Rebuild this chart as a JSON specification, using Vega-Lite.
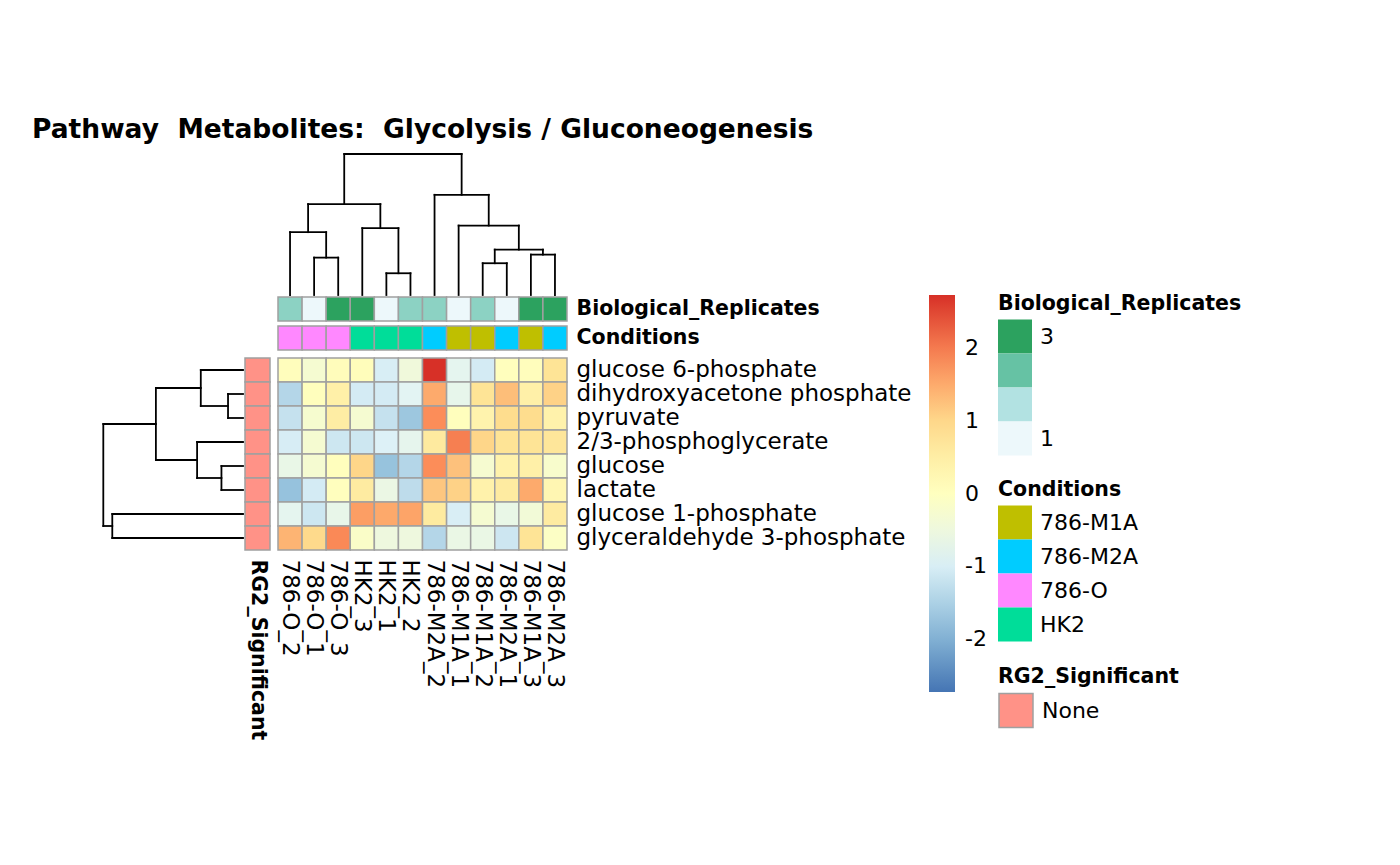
{
  "$schema": "https://vega.github.io/schema/vega-lite/v6.json",
  "width": 289,
  "height": 192,
  "autosize": {"type": "none"},
  "padding": {"left": 278, "top": 358, "right": 833, "bottom": 315},
  "background": "white",
  "title": {
    "text": "Pathway\u00a0 Metabolites:\u00a0 Glycolysis / Gluconeogenesis",
    "anchor": "start",
    "frame": "group",
    "font": "DejaVu Sans",
    "fontSize": 26.5,
    "fontWeight": "bold",
    "color": "black",
    "dx": -246,
    "offset": 9
  },
  "config": {
    "view": {"stroke": null},
    "font": "DejaVu Sans",
    "axis": {"labelFont": "DejaVu Sans", "labelColor": "black", "ticks": false, "domain": false, "grid": false, "title": null, "labelLimit": 500},
    "legend": {"labelFont": "DejaVu Sans", "titleFont": "DejaVu Sans", "labelColor": "black", "titleColor": "black", "padding": 0, "labelLimit": 300, "titleLimit": 400}
  },
  "datasets": {
    "heat": [
      {"sample": "786-O_2", "metabolite": "glucose 6-phosphate", "value": 0.05},
      {"sample": "786-O_1", "metabolite": "glucose 6-phosphate", "value": -0.29},
      {"sample": "786-O_3", "metabolite": "glucose 6-phosphate", "value": 0.08},
      {"sample": "HK2_3", "metabolite": "glucose 6-phosphate", "value": 0.07},
      {"sample": "HK2_1", "metabolite": "glucose 6-phosphate", "value": -1.0},
      {"sample": "HK2_2", "metabolite": "glucose 6-phosphate", "value": -0.44},
      {"sample": "786-M2A_2", "metabolite": "glucose 6-phosphate", "value": 2.72},
      {"sample": "786-M1A_1", "metabolite": "glucose 6-phosphate", "value": -0.76},
      {"sample": "786-M1A_2", "metabolite": "glucose 6-phosphate", "value": -1.04},
      {"sample": "786-M2A_1", "metabolite": "glucose 6-phosphate", "value": 0.03},
      {"sample": "786-M1A_3", "metabolite": "glucose 6-phosphate", "value": 0.05},
      {"sample": "786-M2A_3", "metabolite": "glucose 6-phosphate", "value": 0.79},

      {"sample": "786-O_2", "metabolite": "dihydroxyacetone phosphate", "value": -1.41},
      {"sample": "786-O_1", "metabolite": "dihydroxyacetone phosphate", "value": 0.03},
      {"sample": "786-O_3", "metabolite": "dihydroxyacetone phosphate", "value": 0.44},
      {"sample": "HK2_3", "metabolite": "dihydroxyacetone phosphate", "value": -1.04},
      {"sample": "HK2_1", "metabolite": "dihydroxyacetone phosphate", "value": -1.04},
      {"sample": "HK2_2", "metabolite": "dihydroxyacetone phosphate", "value": -0.82},
      {"sample": "786-M2A_2", "metabolite": "dihydroxyacetone phosphate", "value": 1.5},
      {"sample": "786-M1A_1", "metabolite": "dihydroxyacetone phosphate", "value": -0.7},
      {"sample": "786-M1A_2", "metabolite": "dihydroxyacetone phosphate", "value": 0.8},
      {"sample": "786-M2A_1", "metabolite": "dihydroxyacetone phosphate", "value": 1.28},
      {"sample": "786-M1A_3", "metabolite": "dihydroxyacetone phosphate", "value": 0.44},
      {"sample": "786-M2A_3", "metabolite": "dihydroxyacetone phosphate", "value": 1.06},

      {"sample": "786-O_2", "metabolite": "pyruvate", "value": -1.22},
      {"sample": "786-O_1", "metabolite": "pyruvate", "value": -0.25},
      {"sample": "786-O_3", "metabolite": "pyruvate", "value": 0.53},
      {"sample": "HK2_3", "metabolite": "pyruvate", "value": -0.29},
      {"sample": "HK2_1", "metabolite": "pyruvate", "value": -1.22},
      {"sample": "HK2_2", "metabolite": "pyruvate", "value": -1.68},
      {"sample": "786-M2A_2", "metabolite": "pyruvate", "value": 1.81},
      {"sample": "786-M1A_1", "metabolite": "pyruvate", "value": 0.03},
      {"sample": "786-M1A_2", "metabolite": "pyruvate", "value": 0.35},
      {"sample": "786-M2A_1", "metabolite": "pyruvate", "value": 0.94},
      {"sample": "786-M1A_3", "metabolite": "pyruvate", "value": 0.94},
      {"sample": "786-M2A_3", "metabolite": "pyruvate", "value": 0.38},

      {"sample": "786-O_2", "metabolite": "2/3-phosphoglycerate", "value": -1.01},
      {"sample": "786-O_1", "metabolite": "2/3-phosphoglycerate", "value": -0.29},
      {"sample": "786-O_3", "metabolite": "2/3-phosphoglycerate", "value": -1.12},
      {"sample": "HK2_3", "metabolite": "2/3-phosphoglycerate", "value": -1.12},
      {"sample": "HK2_1", "metabolite": "2/3-phosphoglycerate", "value": -0.94},
      {"sample": "HK2_2", "metabolite": "2/3-phosphoglycerate", "value": -0.73},
      {"sample": "786-M2A_2", "metabolite": "2/3-phosphoglycerate", "value": 0.61},
      {"sample": "786-M1A_1", "metabolite": "2/3-phosphoglycerate", "value": 1.95},
      {"sample": "786-M1A_2", "metabolite": "2/3-phosphoglycerate", "value": 1.02},
      {"sample": "786-M2A_1", "metabolite": "2/3-phosphoglycerate", "value": 0.8},
      {"sample": "786-M1A_3", "metabolite": "2/3-phosphoglycerate", "value": 0.8},
      {"sample": "786-M2A_3", "metabolite": "2/3-phosphoglycerate", "value": 0.72},

      {"sample": "786-O_2", "metabolite": "glucose", "value": -0.64},
      {"sample": "786-O_1", "metabolite": "glucose", "value": -0.29},
      {"sample": "786-O_3", "metabolite": "glucose", "value": 0.03},
      {"sample": "HK2_3", "metabolite": "glucose", "value": 1.02},
      {"sample": "HK2_1", "metabolite": "glucose", "value": -1.74},
      {"sample": "HK2_2", "metabolite": "glucose", "value": -1.41},
      {"sample": "786-M2A_2", "metabolite": "glucose", "value": 1.81},
      {"sample": "786-M1A_1", "metabolite": "glucose", "value": 1.24},
      {"sample": "786-M1A_2", "metabolite": "glucose", "value": -0.27},
      {"sample": "786-M2A_1", "metabolite": "glucose", "value": 0.38},
      {"sample": "786-M1A_3", "metabolite": "glucose", "value": 0.44},
      {"sample": "786-M2A_3", "metabolite": "glucose", "value": -0.2},

      {"sample": "786-O_2", "metabolite": "lactate", "value": -1.76},
      {"sample": "786-O_1", "metabolite": "lactate", "value": -1.04},
      {"sample": "786-O_3", "metabolite": "lactate", "value": 0.02},
      {"sample": "HK2_3", "metabolite": "lactate", "value": 0.58},
      {"sample": "HK2_1", "metabolite": "lactate", "value": -0.59},
      {"sample": "HK2_2", "metabolite": "lactate", "value": -1.3},
      {"sample": "786-M2A_2", "metabolite": "lactate", "value": 1.19},
      {"sample": "786-M1A_1", "metabolite": "lactate", "value": 1.06},
      {"sample": "786-M1A_2", "metabolite": "lactate", "value": 0.38},
      {"sample": "786-M2A_1", "metabolite": "lactate", "value": 0.58},
      {"sample": "786-M1A_3", "metabolite": "lactate", "value": 1.5},
      {"sample": "786-M2A_3", "metabolite": "lactate", "value": 0.26},

      {"sample": "786-O_2", "metabolite": "glucose 1-phosphate", "value": -0.76},
      {"sample": "786-O_1", "metabolite": "glucose 1-phosphate", "value": -1.12},
      {"sample": "786-O_3", "metabolite": "glucose 1-phosphate", "value": -0.67},
      {"sample": "HK2_3", "metabolite": "glucose 1-phosphate", "value": 1.63},
      {"sample": "HK2_1", "metabolite": "glucose 1-phosphate", "value": 1.51},
      {"sample": "HK2_2", "metabolite": "glucose 1-phosphate", "value": 1.56},
      {"sample": "786-M2A_2", "metabolite": "glucose 1-phosphate", "value": 0.59},
      {"sample": "786-M1A_1", "metabolite": "glucose 1-phosphate", "value": -0.99},
      {"sample": "786-M1A_2", "metabolite": "glucose 1-phosphate", "value": -0.29},
      {"sample": "786-M2A_1", "metabolite": "glucose 1-phosphate", "value": -0.64},
      {"sample": "786-M1A_3", "metabolite": "glucose 1-phosphate", "value": -0.38},
      {"sample": "786-M2A_3", "metabolite": "glucose 1-phosphate", "value": 0.58},

      {"sample": "786-O_2", "metabolite": "glyceraldehyde 3-phosphate", "value": 1.39},
      {"sample": "786-O_1", "metabolite": "glyceraldehyde 3-phosphate", "value": 0.97},
      {"sample": "786-O_3", "metabolite": "glyceraldehyde 3-phosphate", "value": 1.85},
      {"sample": "HK2_3", "metabolite": "glyceraldehyde 3-phosphate", "value": -0.15},
      {"sample": "HK2_1", "metabolite": "glyceraldehyde 3-phosphate", "value": -0.5},
      {"sample": "HK2_2", "metabolite": "glyceraldehyde 3-phosphate", "value": -0.5},
      {"sample": "786-M2A_2", "metabolite": "glyceraldehyde 3-phosphate", "value": -1.41},
      {"sample": "786-M1A_1", "metabolite": "glyceraldehyde 3-phosphate", "value": -0.6},
      {"sample": "786-M1A_2", "metabolite": "glyceraldehyde 3-phosphate", "value": -0.6},
      {"sample": "786-M2A_1", "metabolite": "glyceraldehyde 3-phosphate", "value": -1.13},
      {"sample": "786-M1A_3", "metabolite": "glyceraldehyde 3-phosphate", "value": 0.8},
      {"sample": "786-M2A_3", "metabolite": "glyceraldehyde 3-phosphate", "value": -0.09}
    ],
    "annot": [
      {"sample": "786-O_2", "replicate": 2, "condition": "786-O"},
      {"sample": "786-O_1", "replicate": 1, "condition": "786-O"},
      {"sample": "786-O_3", "replicate": 3, "condition": "786-O"},
      {"sample": "HK2_3", "replicate": 3, "condition": "HK2"},
      {"sample": "HK2_1", "replicate": 1, "condition": "HK2"},
      {"sample": "HK2_2", "replicate": 2, "condition": "HK2"},
      {"sample": "786-M2A_2", "replicate": 2, "condition": "786-M2A"},
      {"sample": "786-M1A_1", "replicate": 1, "condition": "786-M1A"},
      {"sample": "786-M1A_2", "replicate": 2, "condition": "786-M1A"},
      {"sample": "786-M2A_1", "replicate": 1, "condition": "786-M2A"},
      {"sample": "786-M1A_3", "replicate": 3, "condition": "786-M1A"},
      {"sample": "786-M2A_3", "replicate": 3, "condition": "786-M2A"}
    ],
    "rowannot": [
      {"metabolite": "glucose 6-phosphate", "significant": "None"},
      {"metabolite": "dihydroxyacetone phosphate", "significant": "None"},
      {"metabolite": "pyruvate", "significant": "None"},
      {"metabolite": "2/3-phosphoglycerate", "significant": "None"},
      {"metabolite": "glucose", "significant": "None"},
      {"metabolite": "lactate", "significant": "None"},
      {"metabolite": "glucose 1-phosphate", "significant": "None"},
      {"metabolite": "glyceraldehyde 3-phosphate", "significant": "None"}
    ],
    "replegend": [
      {"level": "3"}, {"level": "2.33"}, {"level": "1.67"}, {"level": "1"}
    ],
    "coldend": [
      {"p1": 1.5, "p2": 2.5, "h1": 3.73, "h2": 3.73},
      {"p1": 1.5, "p2": 1.5, "h1": 0, "h2": 3.73},
      {"p1": 2.5, "p2": 2.5, "h1": 0, "h2": 3.73},
      {"p1": 0.5, "p2": 2.0, "h1": 6.27, "h2": 6.27},
      {"p1": 0.5, "p2": 0.5, "h1": 0, "h2": 6.27},
      {"p1": 2.0, "p2": 2.0, "h1": 3.73, "h2": 6.27},
      {"p1": 4.5, "p2": 5.5, "h1": 2.17, "h2": 2.17},
      {"p1": 4.5, "p2": 4.5, "h1": 0, "h2": 2.17},
      {"p1": 5.5, "p2": 5.5, "h1": 0, "h2": 2.17},
      {"p1": 3.5, "p2": 5.0, "h1": 6.67, "h2": 6.67},
      {"p1": 3.5, "p2": 3.5, "h1": 0, "h2": 6.67},
      {"p1": 5.0, "p2": 5.0, "h1": 2.17, "h2": 6.67},
      {"p1": 1.25, "p2": 4.25, "h1": 9.07, "h2": 9.07},
      {"p1": 1.25, "p2": 1.25, "h1": 6.27, "h2": 9.07},
      {"p1": 4.25, "p2": 4.25, "h1": 6.67, "h2": 9.07},
      {"p1": 8.5, "p2": 9.5, "h1": 3.17, "h2": 3.17},
      {"p1": 8.5, "p2": 8.5, "h1": 0, "h2": 3.17},
      {"p1": 9.5, "p2": 9.5, "h1": 0, "h2": 3.17},
      {"p1": 10.5, "p2": 11.5, "h1": 4.03, "h2": 4.03},
      {"p1": 10.5, "p2": 10.5, "h1": 0, "h2": 4.03},
      {"p1": 11.5, "p2": 11.5, "h1": 0, "h2": 4.03},
      {"p1": 9.0, "p2": 11.0, "h1": 4.53, "h2": 4.53},
      {"p1": 9.0, "p2": 9.0, "h1": 3.17, "h2": 4.53},
      {"p1": 11.0, "p2": 11.0, "h1": 4.03, "h2": 4.53},
      {"p1": 7.5, "p2": 10.0, "h1": 6.93, "h2": 6.93},
      {"p1": 7.5, "p2": 7.5, "h1": 0, "h2": 6.93},
      {"p1": 10.0, "p2": 10.0, "h1": 4.53, "h2": 6.93},
      {"p1": 6.5, "p2": 8.75, "h1": 10.0, "h2": 10.0},
      {"p1": 6.5, "p2": 6.5, "h1": 0, "h2": 10.0},
      {"p1": 8.75, "p2": 8.75, "h1": 6.93, "h2": 10.0},
      {"p1": 2.75, "p2": 7.625, "h1": 14.07, "h2": 14.07},
      {"p1": 2.75, "p2": 2.75, "h1": 9.07, "h2": 14.07},
      {"p1": 7.625, "p2": 7.625, "h1": 10.0, "h2": 14.07}
    ],
    "rowdend": [
      {"p1": 1.5, "p2": 2.5, "h1": 1.5, "h2": 1.5},
      {"p1": 1.5, "p2": 1.5, "h1": 0, "h2": 1.5},
      {"p1": 2.5, "p2": 2.5, "h1": 0, "h2": 1.5},
      {"p1": 0.5, "p2": 2.0, "h1": 4.23, "h2": 4.23},
      {"p1": 0.5, "p2": 0.5, "h1": 0, "h2": 4.23},
      {"p1": 2.0, "p2": 2.0, "h1": 1.5, "h2": 4.23},
      {"p1": 4.5, "p2": 5.5, "h1": 2.16, "h2": 2.16},
      {"p1": 4.5, "p2": 4.5, "h1": 0, "h2": 2.16},
      {"p1": 5.5, "p2": 5.5, "h1": 0, "h2": 2.16},
      {"p1": 3.5, "p2": 5.0, "h1": 4.6, "h2": 4.6},
      {"p1": 3.5, "p2": 3.5, "h1": 0, "h2": 4.6},
      {"p1": 5.0, "p2": 5.0, "h1": 2.16, "h2": 4.6},
      {"p1": 1.25, "p2": 4.25, "h1": 8.73, "h2": 8.73},
      {"p1": 1.25, "p2": 1.25, "h1": 4.23, "h2": 8.73},
      {"p1": 4.25, "p2": 4.25, "h1": 4.6, "h2": 8.73},
      {"p1": 6.5, "p2": 7.5, "h1": 13.1, "h2": 13.1},
      {"p1": 6.5, "p2": 6.5, "h1": 0, "h2": 13.1},
      {"p1": 7.5, "p2": 7.5, "h1": 0, "h2": 13.1},
      {"p1": 2.75, "p2": 7.0, "h1": 14.0, "h2": 14.0},
      {"p1": 2.75, "p2": 2.75, "h1": 8.73, "h2": 14.0},
      {"p1": 7.0, "p2": 7.0, "h1": 13.1, "h2": 14.0}
    ]
  },
  "layer": [
    {
      "data": {"name": "coldend"},
      "mark": {"type": "rule", "color": "black", "strokeWidth": 1.8, "strokeCap": "square"},
      "encoding": {
        "x": {"field": "p1", "type": "quantitative", "scale": {"domain": [0, 12], "range": [0, 289], "nice": false, "zero": false}, "axis": null},
        "x2": {"field": "p2"},
        "y": {"field": "h1", "type": "quantitative", "scale": {"domain": [0, 14.07], "range": [-63, -204], "nice": false, "zero": false}, "axis": null},
        "y2": {"field": "h2"}
      }
    },
    {
      "data": {"name": "rowdend"},
      "mark": {"type": "rule", "color": "black", "strokeWidth": 1.8, "strokeCap": "square"},
      "encoding": {
        "x": {"field": "h1", "type": "quantitative", "scale": {"domain": [0, 14], "range": [-35, -174.7], "nice": false, "zero": false}, "axis": null},
        "x2": {"field": "h2"},
        "y": {"field": "p1", "type": "quantitative", "scale": {"domain": [0, 8], "range": [0, 192], "nice": false, "zero": false}, "axis": null},
        "y2": {"field": "p2"}
      }
    },
    {
      "data": {"name": "heat"},
      "mark": {"type": "rect", "stroke": "#a0a0a0", "strokeWidth": 1.5},
      "encoding": {
        "x": {"field": "sample", "type": "nominal", "sort": null,
          "scale": {"domain": ["786-O_2", "786-O_1", "786-O_3", "HK2_3", "HK2_1", "HK2_2", "786-M2A_2", "786-M1A_1", "786-M1A_2", "786-M2A_1", "786-M1A_3", "786-M2A_3"], "paddingInner": 0, "paddingOuter": 0},
          "axis": {"orient": "bottom", "labelAngle": 90, "labelAlign": "left", "labelBaseline": "middle", "labelPadding": 9, "labelFontSize": 23}},
        "y": {"field": "metabolite", "type": "nominal", "sort": null,
          "scale": {"domain": ["glucose 6-phosphate", "dihydroxyacetone phosphate", "pyruvate", "2/3-phosphoglycerate", "glucose", "lactate", "glucose 1-phosphate", "glyceraldehyde 3-phosphate"], "paddingInner": 0, "paddingOuter": 0},
          "axis": {"orient": "right", "labelPadding": 9, "labelFontSize": 23, "labelAlign": "left", "labelBaseline": "middle"}},
        "color": {"field": "value", "type": "quantitative",
          "scale": {"domain": [-2.72, -1.813, -0.907, 0, 0.907, 1.813, 2.72], "range": ["#4575B4", "#91BFDB", "#E0F3F8", "#FFFFBF", "#FEE090", "#FC8D59", "#D73027"], "interpolate": "rgb"},
          "legend": {"orient": "none", "legendX": 651, "legendY": -63, "title": null, "direction": "vertical", "gradientLength": 397, "gradientThickness": 26, "gradientStrokeWidth": 0, "values": [-2, -1, 0, 1, 2], "labelFontSize": 22, "labelOffset": 10, "labelOverlap": false,
            "labelExpr": "datum.value < 0 ? '-' + abs(datum.value) : '' + datum.value"}}
      }
    },
    {
      "data": {"name": "annot"},
      "mark": {"type": "rect", "stroke": "#a0a0a0", "strokeWidth": 1.5},
      "encoding": {
        "x": {"field": "sample", "type": "nominal", "sort": null,
          "scale": {"domain": ["786-O_2", "786-O_1", "786-O_3", "HK2_3", "HK2_1", "HK2_2", "786-M2A_2", "786-M1A_1", "786-M1A_2", "786-M2A_1", "786-M1A_3", "786-M2A_3"], "paddingInner": 0, "paddingOuter": 0},
          "axis": null},
        "y": {"datum": "Biological_Replicates", "type": "nominal", "scale": {"range": [-61, -37], "paddingInner": 0, "paddingOuter": 0},
          "axis": {"orient": "right", "labelPadding": 9, "labelFontSize": 20.5, "labelFontWeight": "bold", "labelAlign": "left", "labelBaseline": "middle"}},
        "color": {"field": "replicate", "type": "quantitative",
          "scale": {"domain": [1, 1.667, 2.333, 3], "range": ["#EDF8FB", "#B2E2E2", "#66C2A4", "#2CA25F"], "interpolate": "rgb"},
          "legend": null}
      }
    },
    {
      "data": {"name": "annot"},
      "mark": {"type": "rect", "stroke": "#a0a0a0", "strokeWidth": 1.5},
      "encoding": {
        "x": {"field": "sample", "type": "nominal", "sort": null,
          "scale": {"domain": ["786-O_2", "786-O_1", "786-O_3", "HK2_3", "HK2_1", "HK2_2", "786-M2A_2", "786-M1A_1", "786-M1A_2", "786-M2A_1", "786-M1A_3", "786-M2A_3"], "paddingInner": 0, "paddingOuter": 0},
          "axis": null},
        "y": {"datum": "Conditions", "type": "nominal", "scale": {"range": [-32, -8], "paddingInner": 0, "paddingOuter": 0},
          "axis": {"orient": "right", "labelPadding": 9, "labelFontSize": 20.5, "labelFontWeight": "bold", "labelAlign": "left", "labelBaseline": "middle"}},
        "color": {"field": "condition", "type": "nominal",
          "scale": {"domain": ["786-M1A", "786-M2A", "786-O", "HK2"], "range": ["#BFBF00", "#00CCFF", "#FF88FF", "#00DD99"]},
          "legend": {"orient": "none", "legendX": 720, "legendY": 122, "title": "Conditions", "titleFontSize": 20.5, "titleFontWeight": "bold", "titlePadding": 5, "symbolType": "square", "symbolSize": 1156, "symbolStrokeWidth": 0, "rowPadding": 0, "labelFontSize": 22, "labelOffset": 8}}
      }
    },
    {
      "data": {"name": "rowannot"},
      "mark": {"type": "rect", "stroke": "#a0a0a0", "strokeWidth": 1.5},
      "encoding": {
        "x": {"datum": "RG2_Significant", "type": "nominal", "scale": {"range": [-33, -8], "paddingInner": 0, "paddingOuter": 0},
          "axis": {"orient": "bottom", "labelAngle": 90, "labelAlign": "left", "labelBaseline": "middle", "labelPadding": 9, "labelFontSize": 20.5, "labelFontWeight": "bold"}},
        "y": {"field": "metabolite", "type": "nominal", "sort": null,
          "scale": {"domain": ["glucose 6-phosphate", "dihydroxyacetone phosphate", "pyruvate", "2/3-phosphoglycerate", "glucose", "lactate", "glucose 1-phosphate", "glyceraldehyde 3-phosphate"], "paddingInner": 0, "paddingOuter": 0},
          "axis": null},
        "color": {"field": "significant", "type": "nominal",
          "scale": {"domain": ["None"], "range": ["#FF9287"]},
          "legend": {"orient": "none", "legendX": 720, "legendY": 309, "title": "RG2_Significant", "titleFontSize": 20.5, "titleFontWeight": "bold", "titlePadding": 5, "symbolType": "square", "symbolSize": 1156, "symbolStrokeColor": "#a0a0a0", "symbolStrokeWidth": 1.5, "rowPadding": 0, "labelFontSize": 22, "labelOffset": 8}}
      }
    },
    {
      "data": {"name": "replegend"},
      "mark": {"type": "rect", "opacity": 0},
      "encoding": {
        "color": {"field": "level", "type": "nominal",
          "scale": {"domain": ["3", "2.33", "1.67", "1"], "range": ["#2CA25F", "#66C2A4", "#B2E2E2", "#EDF8FB"]},
          "legend": {"orient": "none", "legendX": 720, "legendY": -64, "title": "Biological_Replicates", "titleFontSize": 20.5, "titleFontWeight": "bold", "titlePadding": 5, "symbolType": "square", "symbolSize": 1156, "symbolStrokeWidth": 0, "symbolOpacity": 1, "rowPadding": 0, "labelFontSize": 22, "labelOffset": 8,
            "labelExpr": "datum.label == '3' || datum.label == '1' ? datum.label : ''"}}
      }
    }
  ],
  "resolve": {
    "scale": {"x": "independent", "y": "independent", "color": "independent"},
    "axis": {"x": "independent", "y": "independent"},
    "legend": {"color": "independent"}
  }
}
